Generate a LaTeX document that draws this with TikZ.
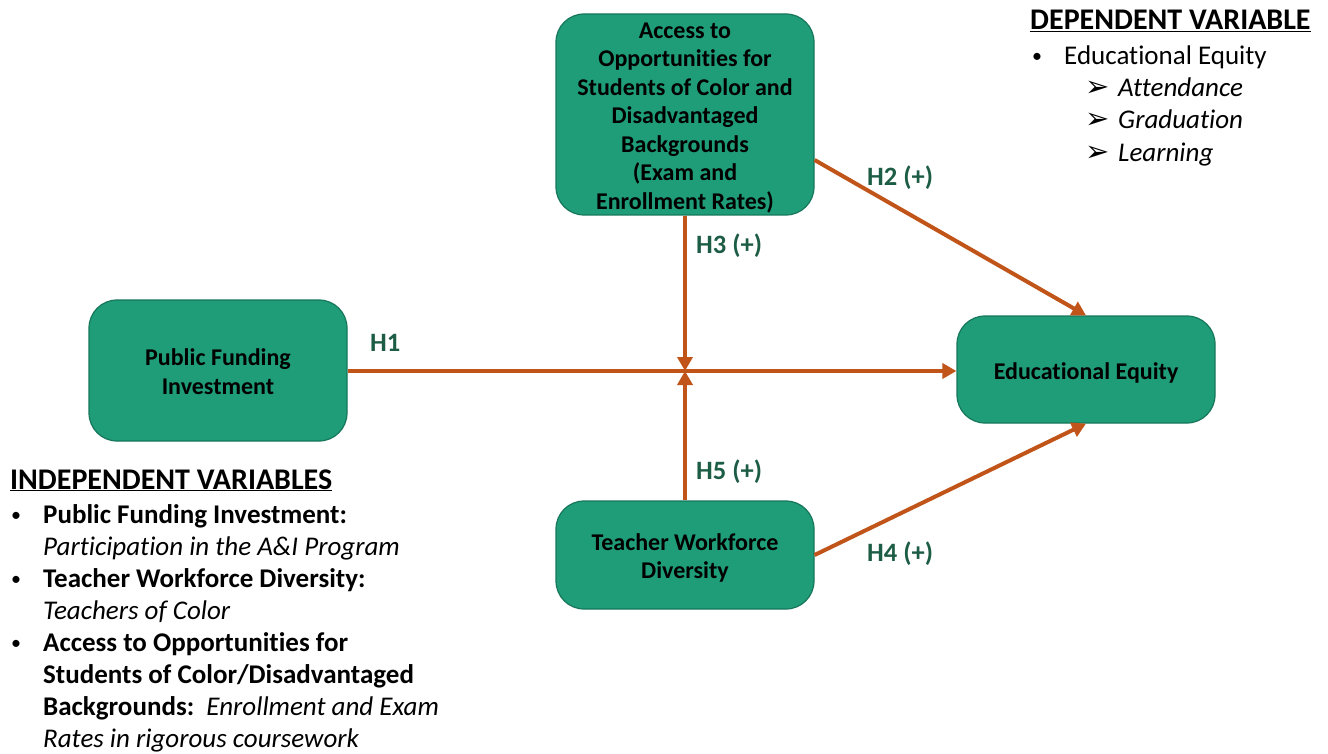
\documentclass[tikz,border=0pt]{standalone}
\usepackage{fontspec}
\setmainfont[Ligatures={NoCommon}]{Carlito}
\newfontfamily\dejavu{DejaVu Sans}
\usetikzlibrary{arrows.meta}
\definecolor{boxgreen}{HTML}{1F9C78}
\definecolor{boxborder}{HTML}{17775B}
\definecolor{arrorange}{HTML}{C05419}
\definecolor{lblgreen}{HTML}{1D5C45}
\tikzset{
  vbox/.style={rounded corners=28pt, fill=boxgreen, draw=boxborder, line width=1.2pt,
    minimum width=258pt, inner sep=0pt},
  btext/.style={align=center, font=\bfseries\fontsize{24}{28.5}\selectfont, text=black, inner sep=0pt},
  arr/.style={draw=arrorange, line width=4pt, -{Triangle[length=14pt,width=15pt]}},
  hlbl/.style={font=\bfseries\fontsize{26.5}{30}\selectfont, text=lblgreen, anchor=base west, inner sep=0pt},
  txt/.style={font=\fontsize{27}{32}\selectfont, anchor=base west, inner sep=0pt},
  bul/.style={font=\fontsize{20}{32}\selectfont, anchor=base west, inner sep=0pt},
  head/.style={font=\bfseries\fontsize{30}{32}\selectfont, anchor=base west, inner sep=0pt},
  tip/.style={font=\dejavu\fontsize{29}{32}\selectfont, anchor=base west, inner sep=0pt},
}
\begin{document}
\begin{tikzpicture}[x=1pt,y=-1pt]
\useasboundingbox (0,0) rectangle (1328,754);
% boxes
\node[vbox, minimum height=201pt] (acc) at (685,114.5) {};
\node[vbox, minimum height=141pt] (pub) at (218,370.5) {};
\node[vbox, minimum height=107pt] (eq) at (1086,369.5) {};
\node[vbox, minimum height=108pt] (tw) at (685,555) {};
\node[btext] (acct) at ([yshift=-3.5pt]acc.center) {Access to\\Opportunities for\\Students of Color and\\Disadvantaged\\Backgrounds\\(Exam and\\Enrollment Rates)};
\node[btext] (pubt) at ([yshift=-1pt]pub.center) {Public Funding\\Investment};
\node[btext] (eqt) at ([yshift=-3pt]eq.center) {Educational Equity};
\node[btext] (twt) at ([yshift=-3pt]tw.center) {Teacher Workforce\\Diversity};
\coordinate (J) at (685,371);
% connectors
\draw[arr] (pub.east |- J) -- (eq.west |- J);
\draw[arr] (acc.south) -- (J);
\draw[arr] (tw.north) -- (J);
\draw[arr] ([yshift=-45.5pt]acc.east) -- (eq.north);
\draw[arr] (tw.east) -- (eq.south);
% labels
\node[hlbl] (l1) at (370,351) {H1};
\node[hlbl] (l3) at (696,254) {H3 (+)};
\node[hlbl] (l2) at (867,186) {H2 (+)};
\node[hlbl] (l5) at (696,479) {H5 (+)};
\node[hlbl] (l4) at (867,561) {H4 (+)};
% dependent variable
\node[head] (dh) at (1030,30) {\underline{DEPENDENT VARIABLE}};
\node[bul] (db) at (1032,63) {•};
\node[txt] (d1) at (1064,65) {Educational Equity};
\node[tip] (da1) at (1085,97) {➢};
\node[txt] (d2) at (1118,97) {\itshape Attendance};
\node[tip] (da2) at (1085,129) {➢};
\node[txt] (d3) at (1118,129) {\itshape Graduation};
\node[tip] (da3) at (1085,162) {➢};
\node[txt] (d4) at (1118,162) {\itshape Learning};
% independent variables
\node[head] (ih) at (10,489) {\underline{INDEPENDENT VARIABLES}};
\node[bul] (ib1) at (11,521) {•};
\node[txt] (i1) at (43,523) {\bfseries Public Funding Investment:};
\node[txt] (i2) at (43,555) {\itshape Participation in the A\&I Program};
\node[bul] (ib2) at (11,585) {•};
\node[txt] (i3) at (43,587) {\bfseries Teacher Workforce Diversity:};
\node[txt] (i4) at (43,619) {\itshape Teachers of Color};
\node[bul] (ib3) at (11,649) {•};
\node[txt] (i5) at (43,651) {\bfseries Access to Opportunities for};
\node[txt] (i6) at (43,683) {\bfseries Students of Color/Disadvantaged};
\node[txt] (i7) at (43,715) {\bfseries Backgrounds:\ \ \mdseries\itshape Enrollment and Exam};
\node[txt] (i8) at (43,747) {\itshape Rates in rigorous coursework};
\end{tikzpicture}
\end{document}
